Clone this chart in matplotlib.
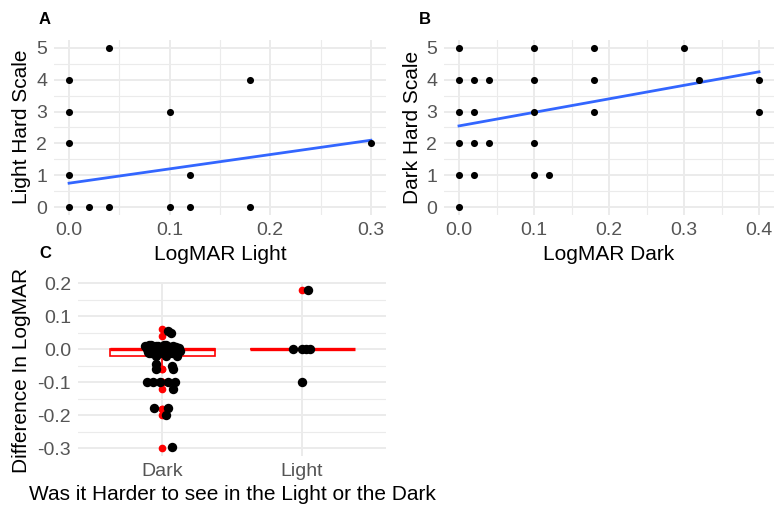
"""Three-panel LogMAR figure: two scatter + fit panels and a boxplot with jitter."""

import matplotlib

matplotlib.use("Agg")

import matplotlib.pyplot as plt
import numpy as np
from matplotlib.ticker import FormatStrFormatter

plt.rcParams["font.family"] = ["Liberation Sans", "DejaVu Sans"]
plt.rcParams["axes.unicode_minus"] = False

W, H = 774, 505

# Panel A: LogMAR light vs light hard scale
light_x = [0.04, 0.0, 0.18, 0.0, 0.1, 0.0, 0.3, 0.0, 0.12, 0.0, 0.02, 0.04, 0.1, 0.12, 0.18]
light_y = [5, 4, 4, 3, 3, 2, 2, 1, 1, 0, 0, 0, 0, 0, 0]
light_fit_x = [0.0, 0.3]
light_fit_y = [0.75, 2.1]

# Panel B: LogMAR dark vs dark hard scale
dark_x = [0.0, 0.1, 0.18, 0.3,
          0.0, 0.02, 0.04, 0.1, 0.18, 0.32, 0.4,
          0.0, 0.02, 0.1, 0.18, 0.4,
          0.0, 0.02, 0.04, 0.1,
          0.0, 0.02, 0.1, 0.12,
          0.0]
dark_y = [5, 5, 5, 5,
          4, 4, 4, 4, 4, 4, 4,
          3, 3, 3, 3, 3,
          2, 2, 2, 2,
          1, 1, 1, 1,
          0]
dark_fit_x = [0.0, 0.4]
dark_fit_y = [2.55, 4.25]

# Panel C: difference in LogMAR by group
groups = ["Dark", "Light"]
diff_dark = [0.06, 0.04, 0.01] + [0.0] * 37 + [-0.01, -0.01, -0.02, -0.02, -0.02,
             -0.04, -0.05, -0.06, -0.06, -0.1, -0.1, -0.1, -0.1, -0.1,
             -0.12, -0.18, -0.18, -0.2, -0.3]
jit_dark_x = [0.045, 0.065, -0.08,
              -0.12, -0.1, -0.09, -0.07, -0.06, -0.05, -0.04, -0.03, -0.02, -0.01,
              0.0, 0.01, 0.02, 0.03, 0.04, 0.05, 0.06, 0.07, 0.08, 0.09, 0.1, 0.11,
              0.12, 0.13, -0.11, -0.08, -0.045, -0.015, 0.015, 0.045, 0.075, 0.105,
              -0.065, -0.025, 0.025, 0.065, 0.085,
              -0.09, 0.1, -0.04, 0.03, 0.11,
              -0.04, 0.07, -0.04, 0.08, -0.11, -0.065, -0.015, 0.045, 0.09,
              0.08, -0.06, 0.045, 0.03, 0.07]
jit_dark_y = [-0.006, 0.008, 0.004,
              0.01, -0.008, 0.012, 0.0, -0.01, 0.006, -0.004, 0.01, -0.012, 0.004,
              -0.006, 0.008, -0.01, 0.012, 0.0, -0.008, 0.006, -0.012, 0.01, -0.004,
              0.008, -0.01, 0.004, -0.006, 0.002, -0.012, 0.01, -0.002, 0.012, -0.008,
              0.004, -0.004, 0.006, -0.01, 0.002, 0.008, -0.006,
              0.0, 0.0, 0.0, 0.0, 0.0,
              -0.004, 0.0, 0.0, 0.0, 0.0, 0.0, 0.0, 0.0, 0.0,
              0.0, 0.003, 0.003, 0.0, 0.004]
diff_light = [0.18, 0.0, 0.0, 0.0, 0.0, -0.1]
jit_light_x = [0.04, -0.065, 0.0, 0.025, 0.06, 0.0]

TICK_GREY = "#555555"
GRID = "#EBEBEB"
FIT_BLUE = "#3366FF"


def _axes(fig, left, top, right, bottom):
    return fig.add_axes([left / W, 1 - bottom / H, (right - left) / W, (bottom - top) / H])


def _style(ax, xmaj, xmin, ymaj, ymin):
    ax.set_xticks(xmaj)
    ax.set_yticks(ymaj)
    if xmin is not None:
        ax.set_xticks(xmin, minor=True)
    if ymin is not None:
        ax.set_yticks(ymin, minor=True)
    ax.grid(which="major", color=GRID, lw=1.4)
    ax.grid(which="minor", color=GRID, lw=0.8)
    ax.set_axisbelow(True)
    ax.tick_params(which="both", length=0, labelsize=14, labelcolor=TICK_GREY, pad=5)
    for s in ax.spines.values():
        s.set_visible(False)


def _labels(ax, fig, xlabel, xpos, ylabel, ypos):
    ax.set_xlabel(xlabel, fontsize=15)
    ax.set_ylabel(ylabel, fontsize=15)
    ax.xaxis.set_label_coords(xpos[0] / W, 1 - xpos[1] / H, transform=fig.transFigure)
    ax.yaxis.set_label_coords(ypos[0] / W, 1 - ypos[1] / H, transform=fig.transFigure)
    ax.xaxis.label.set_verticalalignment("center")
    ax.yaxis.label.set_verticalalignment("center")


fig = plt.figure(figsize=(W / 100, H / 100), dpi=100)

# A
ax = _axes(fig, 54, 40, 386, 215)
ax.scatter(light_x, light_y, s=26, color="black", zorder=3, linewidths=0)
ax.plot(light_fit_x, light_fit_y, color=FIT_BLUE, lw=2, zorder=2)
ax.set_xlim(-0.015, 0.315)
ax.set_ylim(-0.25, 5.25)
_style(ax, [0, 0.1, 0.2, 0.3], [0.05, 0.15, 0.25], list(range(6)), [0.5, 1.5, 2.5, 3.5, 4.5])
ax.xaxis.set_major_formatter(FormatStrFormatter("%.1f"))
_labels(ax, fig, "LogMAR Light", (220, 255), "Light Hard Scale", (22, 127))

# B
ax = _axes(fig, 444, 40, 774, 215)
ax.scatter(dark_x, dark_y, s=26, color="black", zorder=3, linewidths=0)
ax.plot(dark_fit_x, dark_fit_y, color=FIT_BLUE, lw=2, zorder=2)
ax.set_xlim(-0.02, 0.42)
ax.set_ylim(-0.25, 5.25)
_style(ax, [0, 0.1, 0.2, 0.3, 0.4], [0.05, 0.15, 0.25, 0.35], list(range(6)),
       [0.5, 1.5, 2.5, 3.5, 4.5])
ax.xaxis.set_major_formatter(FormatStrFormatter("%.1f"))
_labels(ax, fig, "LogMAR Dark", (609, 255), "Dark Hard Scale", (412, 127))

# C
ax = _axes(fig, 78, 282, 386, 456)
ax.boxplot(
    [diff_dark, diff_light],
    positions=[1, 2],
    widths=0.75,
    patch_artist=True,
    showcaps=False,
    boxprops=dict(facecolor="white", edgecolor="red", lw=1.2),
    medianprops=dict(color="red", lw=2.4),
    whiskerprops=dict(color="red", lw=1.2),
    flierprops=dict(marker="o", markerfacecolor="red", markeredgecolor="red", markersize=4.5),
    zorder=2,
)
ax.scatter(1 + np.array(jit_dark_x), np.array(diff_dark) + np.array(jit_dark_y),
           s=46, color="black", zorder=3, linewidths=0)
ax.scatter(2 + np.array(jit_light_x), diff_light, s=46, color="black", zorder=3, linewidths=0)
ax.set_xlim(0.4, 2.6)
ax.set_ylim(-0.324, 0.204)
_style(ax, [1, 2], None, [-0.3, -0.2, -0.1, 0.0, 0.1, 0.2], [-0.25, -0.15, -0.05, 0.05, 0.15])
ax.set_xticklabels(groups)
ax.yaxis.set_major_formatter(FormatStrFormatter("%.1f"))
_labels(ax, fig, "Was it Harder to see in the Light or the Dark", (232, 495),
        "Difference In LogMAR", (22, 370))

for letter, px, py in [("A", 45, 20), ("B", 425, 20), ("C", 45, 253)]:
    fig.text(px / W, 1 - py / H, letter, fontsize=12, fontweight="bold", ha="center", va="center")

fig.savefig("out.png", dpi=100)
